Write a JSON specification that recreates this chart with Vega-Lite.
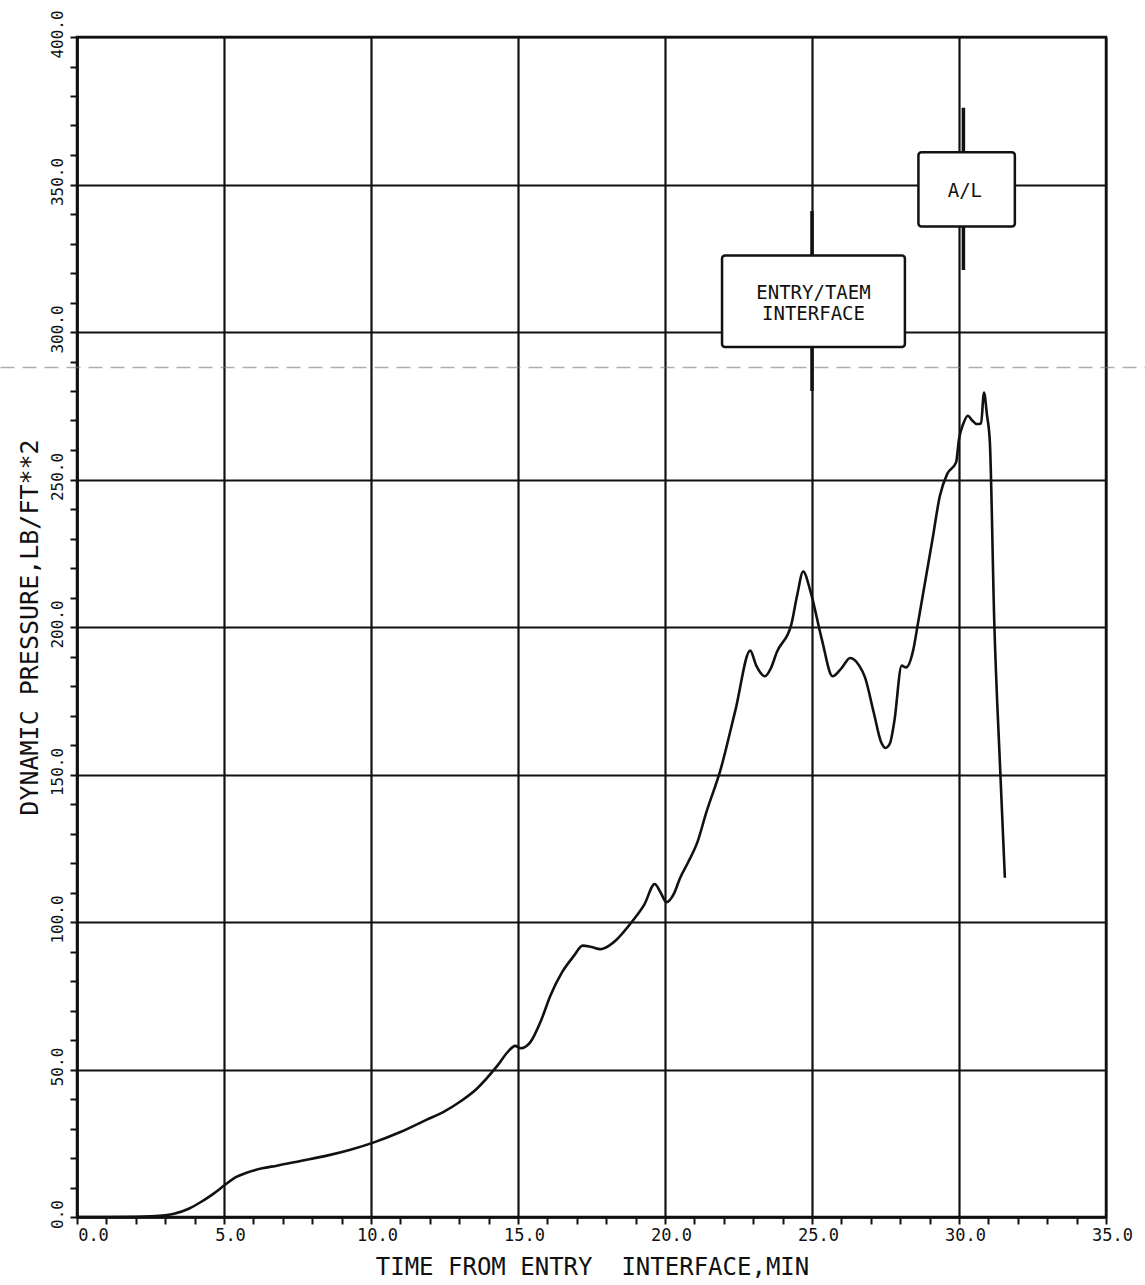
{
  "$schema": "https://vega.github.io/schema/vega-lite/v6.json",
  "width": 1029,
  "height": 1180,
  "autosize": "none",
  "padding": {"left": 77, "top": 37, "right": 39, "bottom": 68},
  "background": "white",
  "config": {
    "view": {"stroke": "#111", "strokeWidth": 2.5},
    "axis": {
      "domainColor": "#111", "domainWidth": 2.5,
      "tickColor": "#111", "tickWidth": 2, "tickSize": 7,
      "gridColor": "#111", "gridWidth": 2.2,
      "labelFont": "DejaVu Sans Mono", "titleFont": "DejaVu Sans Mono",
      "labelColor": "#111", "titleColor": "#111",
      "titleFontWeight": "normal", "labelOverlap": false, "labelFlush": false
    }
  },
  "encoding": {
    "x": {
      "field": "t", "type": "quantitative",
      "scale": {"domain": [0, 35], "nice": false, "zero": false},
      "axis": {
        "values": [0,1,2,3,4,5,6,7,8,9,10,11,12,13,14,15,16,17,18,19,20,21,22,23,24,25,26,27,28,29,30,31,32,33,34,35],
        "labelExpr": "datum.value % 5 === 0 ? format(datum.value, '.1f') : ''",
        "gridOpacity": {"condition": {"test": "datum.value % 5 === 0", "value": 1}, "value": 0},
        "labelFontSize": 17,
        "labelOffset": {"condition": {"test": "datum.value === 0", "value": 16}, "value": 6},
        "labelPadding": 3,
        "labelBaseline": "top",
        "labelAlign": "center",
        "title": "TIME FROM ENTRY\u00a0 INTERFACE,MIN",
        "titleFontSize": 24,
        "titleX": 515,
        "titleY": 57,
        "titleAlign": "center",
        "titleBaseline": "alphabetic"
      }
    },
    "y": {
      "field": "q", "type": "quantitative",
      "scale": {"domain": [0, 400], "nice": false},
      "axis": {
        "values": [0,10,20,30,40,50,60,70,80,90,100,110,120,130,140,150,160,170,180,190,200,210,220,230,240,250,260,270,280,290,300,310,320,330,340,350,360,370,380,390,400],
        "labelExpr": "datum.value % 50 === 0 ? format(datum.value, '.1f') : ''",
        "gridOpacity": {"condition": {"test": "datum.value % 50 === 0", "value": 1}, "value": 0},
        "labelFontSize": 16,
        "labelAngle": 270,
        "labelAlign": "center",
        "labelBaseline": "bottom",
        "labelOffset": -3,
        "labelPadding": 5,
        "title": "DYNAMIC PRESSURE,LB/FT**2",
        "titleFontSize": 25,
        "titleAngle": 270,
        "titleX": -40,
        "titleY": 590,
        "titleAlign": "center",
        "titleBaseline": "alphabetic"
      }
    }
  },
  "layer": [
    {
      "data": {"values": [
        {"t": 0.0, "q": 0}, {"t": 1.0, "q": 0}, {"t": 2.0, "q": 0.05}, {"t": 2.5, "q": 0.2},
        {"t": 3.0, "q": 0.6}, {"t": 3.3, "q": 1.1}, {"t": 3.8, "q": 2.8}, {"t": 4.2, "q": 5},
        {"t": 4.6, "q": 7.6}, {"t": 5.05, "q": 11}, {"t": 5.4, "q": 13.5}, {"t": 5.77, "q": 15},
        {"t": 6.3, "q": 16.5}, {"t": 6.8, "q": 17.4}, {"t": 7.6, "q": 19}, {"t": 8.5, "q": 20.8},
        {"t": 9.3, "q": 22.8}, {"t": 10.1, "q": 25.3}, {"t": 11.0, "q": 28.8}, {"t": 11.9, "q": 33},
        {"t": 12.5, "q": 35.8}, {"t": 13.0, "q": 38.9}, {"t": 13.6, "q": 43.5}, {"t": 14.3, "q": 51.3},
        {"t": 14.7, "q": 56.5}, {"t": 14.9, "q": 58}, {"t": 15.1, "q": 57.2}, {"t": 15.4, "q": 59},
        {"t": 15.8, "q": 67}, {"t": 16.1, "q": 75}, {"t": 16.5, "q": 83}, {"t": 16.9, "q": 88.5},
        {"t": 17.2, "q": 92}, {"t": 17.5, "q": 91.5}, {"t": 17.8, "q": 90.8}, {"t": 18.1, "q": 92},
        {"t": 18.35, "q": 94}, {"t": 18.9, "q": 100.4}, {"t": 19.3, "q": 106}, {"t": 19.65, "q": 112.9},
        {"t": 19.85, "q": 110}, {"t": 20.05, "q": 106.7}, {"t": 20.3, "q": 109.5}, {"t": 20.5, "q": 114.6},
        {"t": 20.8, "q": 120.5}, {"t": 21.1, "q": 127}, {"t": 21.4, "q": 137}, {"t": 21.9, "q": 152},
        {"t": 22.4, "q": 172}, {"t": 22.9, "q": 192}, {"t": 23.1, "q": 187}, {"t": 23.4, "q": 183.3},
        {"t": 23.6, "q": 186}, {"t": 23.8, "q": 191.4}, {"t": 24.3, "q": 201}, {"t": 24.5, "q": 211},
        {"t": 24.7, "q": 218.8}, {"t": 24.95, "q": 212}, {"t": 25.33, "q": 196}, {"t": 25.7, "q": 183.3},
        {"t": 26.0, "q": 186}, {"t": 26.3, "q": 189.5}, {"t": 26.6, "q": 187}, {"t": 26.8, "q": 183},
        {"t": 27.1, "q": 171}, {"t": 27.35, "q": 161}, {"t": 27.5, "q": 159}, {"t": 27.65, "q": 160.5},
        {"t": 27.8, "q": 168}, {"t": 28.05, "q": 186.9}, {"t": 28.2, "q": 186.3}, {"t": 28.45, "q": 192.5},
        {"t": 28.6, "q": 201}, {"t": 29.1, "q": 229.8}, {"t": 29.35, "q": 244.5}, {"t": 29.6, "q": 251.9},
        {"t": 29.9, "q": 255.8}, {"t": 30.0, "q": 263.7}, {"t": 30.15, "q": 269}, {"t": 30.3, "q": 271.6},
        {"t": 30.45, "q": 270}, {"t": 30.6, "q": 268.8}, {"t": 30.75, "q": 269}, {"t": 30.85, "q": 279.5},
        {"t": 30.95, "q": 272}, {"t": 31.05, "q": 262.6}, {"t": 31.2, "q": 201.6}, {"t": 31.4, "q": 151.9},
        {"t": 31.56, "q": 115}
      ]},
      "mark": {"type": "line", "interpolate": "monotone", "color": "#111", "strokeWidth": 2.6}
    },
    {
      "data": {"values": [{"t": -2.6, "t2": 36.5, "q": 288}]},
      "mark": {"type": "rule", "color": "#777", "strokeWidth": 1.5, "strokeDash": [14, 8], "opacity": 0.6, "clip": false},
      "encoding": {"x2": {"field": "t2"}}
    },
    {
      "data": {"values": [
        {"t": 25.0, "q": 280, "q2": 341},
        {"t": 30.15, "q": 321, "q2": 376}
      ]},
      "mark": {"type": "rule", "color": "#111", "strokeWidth": 3.5},
      "encoding": {"y2": {"field": "q2"}}
    },
    {
      "data": {"values": [
        {"t": 21.94, "t2": 28.16, "q": 294.9, "q2": 325.9},
        {"t": 28.62, "t2": 31.9, "q": 335.8, "q2": 360.9}
      ]},
      "mark": {"type": "rect", "fill": "white", "stroke": "#111", "strokeWidth": 2.5, "cornerRadius": 3},
      "encoding": {"x2": {"field": "t2"}, "y2": {"field": "q2"}}
    },
    {
      "data": {"values": [
        {"t": 25.05, "q": 313.2, "label": "ENTRY/TAEM\nINTERFACE"},
        {"t": 30.2, "q": 347.9, "label": "A/L"}
      ]},
      "mark": {"type": "text", "font": "DejaVu Sans Mono", "fontSize": 19, "lineBreak": "\n", "lineHeight": 21, "align": "center", "baseline": "middle", "color": "#111"},
      "encoding": {"text": {"field": "label"}}
    }
  ]
}
